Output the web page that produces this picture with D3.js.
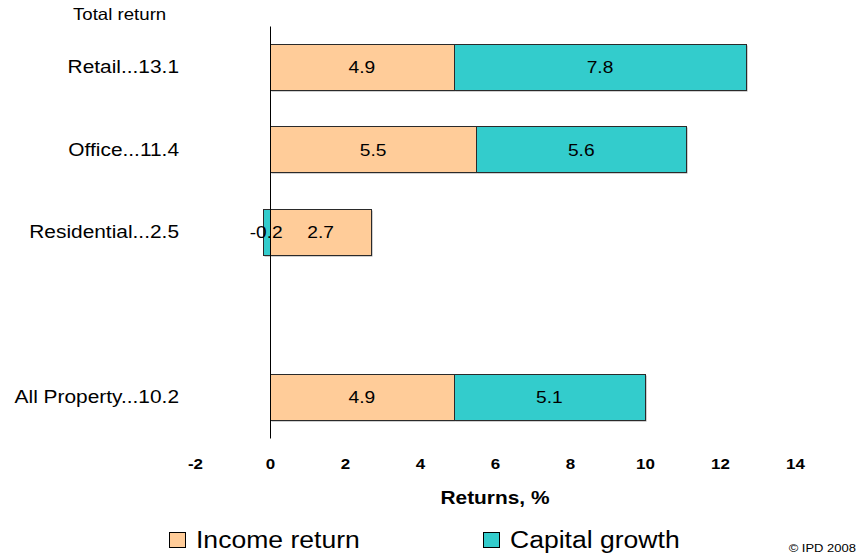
<!DOCTYPE html>
<html>
<head>
<meta charset="utf-8">
<script src="https://cdn.jsdelivr.net/npm/d3@7"></script>
<style>
  body { margin: 0; background: #fff; }
  svg { display: block; }
  text { font-family: Arial, "Liberation Sans", sans-serif; fill: #000; }
</style>
</head>
<body>
<svg id="chart" width="859" height="560"></svg>
<script>
// Returns by sector (the blank slot leaves a gap before the all-property bar)
const categories    = ["Retail", "Office", "Residential", "", "All Property"];
const totalReturn   = [13.1, 11.4, 2.5, null, 10.2];
const incomeReturn  = [4.9, 5.5, 2.7, null, 4.9];
const capitalGrowth = [7.8, 5.6, -0.2, null, 5.1];
const seriesKeys    = ["income", "capital"];
const seriesNames   = ["Income return", "Capital growth"];
const seriesColors  = ["#FFCC99", "#33CCCC"];
const xTicks        = [-2, 0, 2, 4, 6, 8, 10, 12, 14];

const W = 859, H = 560;
const SX = 1.13; // horizontal stretch applied to all lettering

const svg = d3.select("#chart");
svg.append("rect").attr("width", W).attr("height", H).attr("fill", "#fff");

const x = d3.scaleLinear().domain([-2, 14]).range([195, 795]);
const y = d3.scaleBand().domain(categories).range([26, 438])
  .paddingInner(0.436).paddingOuter(0.218);

const rows = categories.map((c, i) => ({
  cat: c,
  total: totalReturn[i],
  income: incomeReturn[i] ?? 0,
  capital: capitalGrowth[i] ?? 0,
  has: incomeReturn[i] != null
})).filter(r => r.has);

const stacked = d3.stack().keys(seriesKeys).offset(d3.stackOffsetDiverging)(rows);

const snap = v => Math.round(v) + 0.5;

// bar shadows
const shadow = svg.append("g");
stacked.forEach(layer => {
  shadow.selectAll(null).data(layer).join("rect")
    .attr("x", d => snap(x(d[0])) + 1)
    .attr("y", d => snap(y(d.data.cat)) + 1)
    .attr("width", d => snap(x(d[1])) - snap(x(d[0])))
    .attr("height", Math.round(y.bandwidth()))
    .attr("fill", "#a0a0a0");
});

// stacked bars
const bars = svg.append("g");
stacked.forEach((layer, si) => {
  bars.selectAll(null).data(layer).join("rect")
    .attr("x", d => snap(x(d[0])))
    .attr("y", d => snap(y(d.data.cat)))
    .attr("width", d => snap(x(d[1])) - snap(x(d[0])))
    .attr("height", Math.round(y.bandwidth()))
    .attr("fill", seriesColors[si])
    .attr("stroke", "#2a2a2a")
    .attr("stroke-width", 1);
});

// category axis (its domain line is the vertical zero line)
const yAxis = svg.append("g")
  .attr("transform", `translate(${x(0)},0)`)
  .call(d3.axisLeft(y).tickSize(0).tickSizeOuter(0).tickPadding(0)
    .tickFormat(c => {
      const r = rows.find(r => r.cat === c);
      return r ? `${c}...${r.total.toFixed(1)}` : "";
    }));
yAxis.attr("font-family", null).attr("font-size", null);
yAxis.select(".domain").attr("stroke", "#000").attr("stroke-width", 1);
yAxis.selectAll(".tick text")
  .attr("x", 0)
  .attr("font-size", 18.5)
  .attr("fill", "#000")
  .attr("transform", `translate(-91,0) scale(${SX},1)`);

// value axis
const xAxis = svg.append("g")
  .attr("transform", "translate(0,438)")
  .call(d3.axisBottom(x).tickValues(xTicks).tickSize(0).tickPadding(20)
    .tickFormat(d => String(d)));
xAxis.attr("font-family", null).attr("font-size", null);
xAxis.select(".domain").remove();
xAxis.selectAll(".tick text")
  .attr("font-size", 15)
  .attr("font-weight", "bold")
  .attr("fill", "#000")
  .attr("transform", `scale(${SX},1)`);

// segment value labels
const labels = svg.append("g");
stacked.forEach(layer => {
  labels.selectAll(null).data(layer).join("text")
    .attr("transform", d =>
      `translate(${(x(d[0]) + x(d[1])) / 2},${y(d.data.cat) + y.bandwidth() / 2}) scale(${SX},1)`)
    .attr("dy", "0.36em")
    .attr("text-anchor", "middle")
    .attr("font-size", 17)
    .text(d => (d.data[layer.key]).toFixed(1));
});

// titles
svg.append("text")
  .attr("transform", `translate(73,20) scale(${SX},1)`)
  .attr("font-size", 16.5)
  .text("Total return");

svg.append("text")
  .attr("transform", `translate(${x(6)},504) scale(${SX},1)`)
  .attr("text-anchor", "middle")
  .attr("font-size", 18.5)
  .attr("font-weight", "bold")
  .text("Returns, %");

// legend
const legendX = [169, 483];
const legend = svg.append("g");
seriesNames.forEach((name, i) => {
  legend.append("rect")
    .attr("x", legendX[i] + 0.5).attr("y", 532.5)
    .attr("width", 16).attr("height", 15)
    .attr("fill", seriesColors[i])
    .attr("stroke", "#000").attr("stroke-width", 1);
  legend.append("text")
    .attr("transform", `translate(${legendX[i] + 27},548) scale(${SX},1)`)
    .attr("font-size", 23.5)
    .text(name);
});

svg.append("text")
  .attr("transform", `translate(856,552) scale(${SX},1)`)
  .attr("text-anchor", "end")
  .attr("font-size", 11.5)
  .text("© IPD 2008");
</script>
</body>
</html>
